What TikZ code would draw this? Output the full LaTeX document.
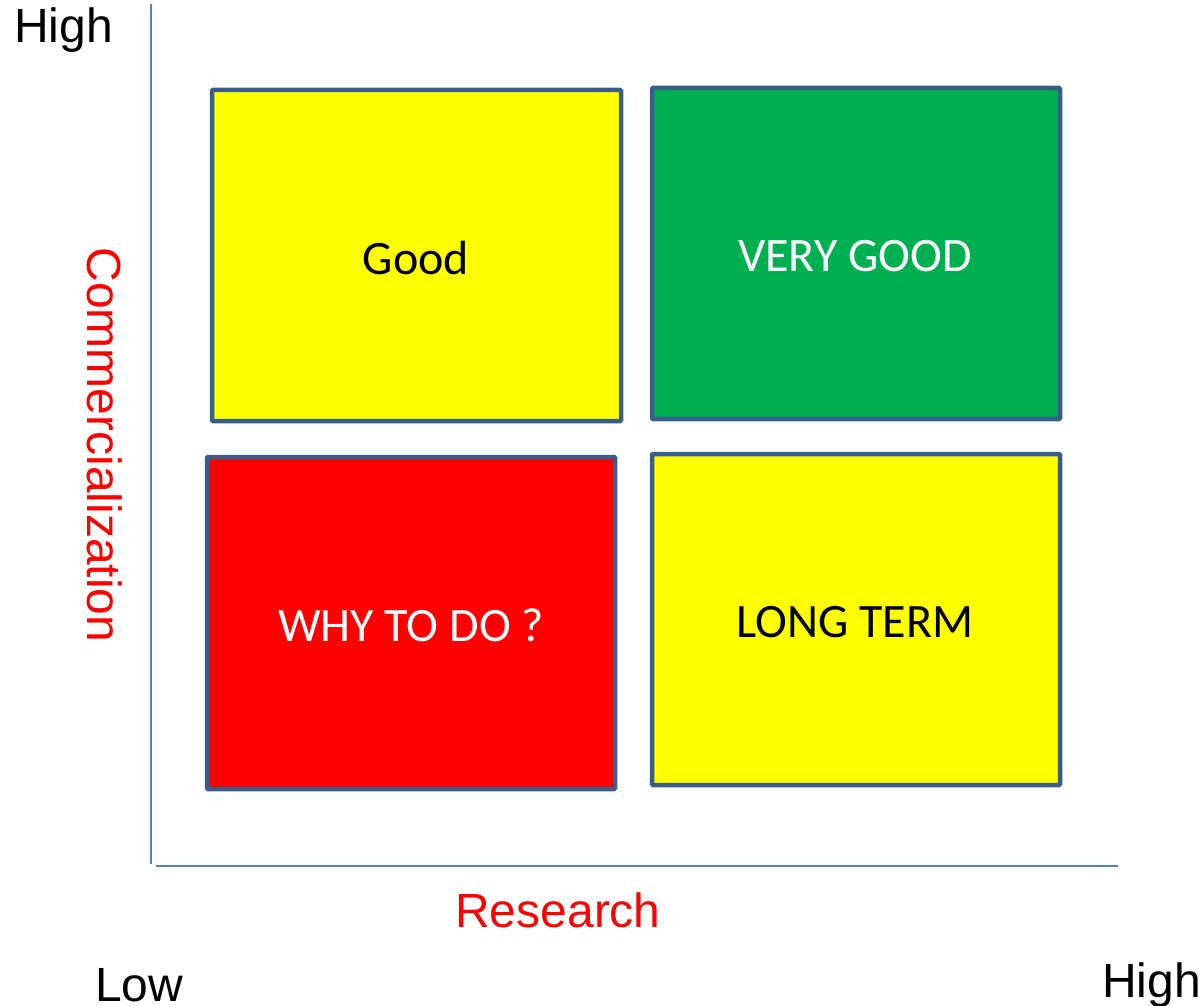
\documentclass[tikz,border=0pt]{standalone}
\usepackage{fontspec}
\setmainfont{Liberation Sans}
\newfontfamily\boxfont{Carlito}
\definecolor{axisblue}{HTML}{4F81BD}
\definecolor{boxedge}{HTML}{385D8A}
\definecolor{qgreen}{HTML}{00B050}
\definecolor{qyellow}{HTML}{FFFF00}
\definecolor{qred}{HTML}{FF0000}
\begin{document}
\begin{tikzpicture}[x=1pt,y=-1pt,
  axis/.style={draw=axisblue,line width=2pt},
  quad/.style={draw=boxedge,line width=4.5pt,rounded corners=1pt},
  qlabel/.style={font=\boxfont\fontsize{48}{56}\selectfont,inner sep=0pt},
  ax/.style={font=\fontsize{48}{56}\selectfont,inner sep=0pt}]
\useasboundingbox (0,0) rectangle (1204,1006);
\coordinate (vtop) at (151,4);
\coordinate (vbot) at (151,864);
\coordinate (hl) at (156,866);
\coordinate (hr) at (1118,866);
\draw[axis] (vtop) -- (vbot);
\draw[axis] (hl) -- (hr);
\filldraw[quad,fill=qyellow] (212,90) rectangle (621,421);
\filldraw[quad,fill=qgreen] (652,88) rectangle (1060,419);
\filldraw[quad,fill=qred] (207,457) rectangle (615,789);
\filldraw[quad,fill=qyellow] (652,454) rectangle (1060,785);
\node[qlabel] (good) at (416,258) {Good};
\node[qlabel,text=white] (vgood) at (855,256) {VERY GOOD};
\node[qlabel,text=white] (why) at (411,625) {WHY TO DO ?};
\node[qlabel] (long) at (855,622) {LONG TERM};
\node[ax,anchor=west] (hightop) at (14,30) {High};
\node[ax,text=qred,rotate=-90] (comm) at (105,445) {Commercialization};
\node[ax,text=qred] (res) at (558,910) {Research};
\node[ax,anchor=west] (low) at (95,985) {Low};
\node[ax,anchor=east] (highr) at (1201,985) {High};
\end{tikzpicture}
\end{document}
